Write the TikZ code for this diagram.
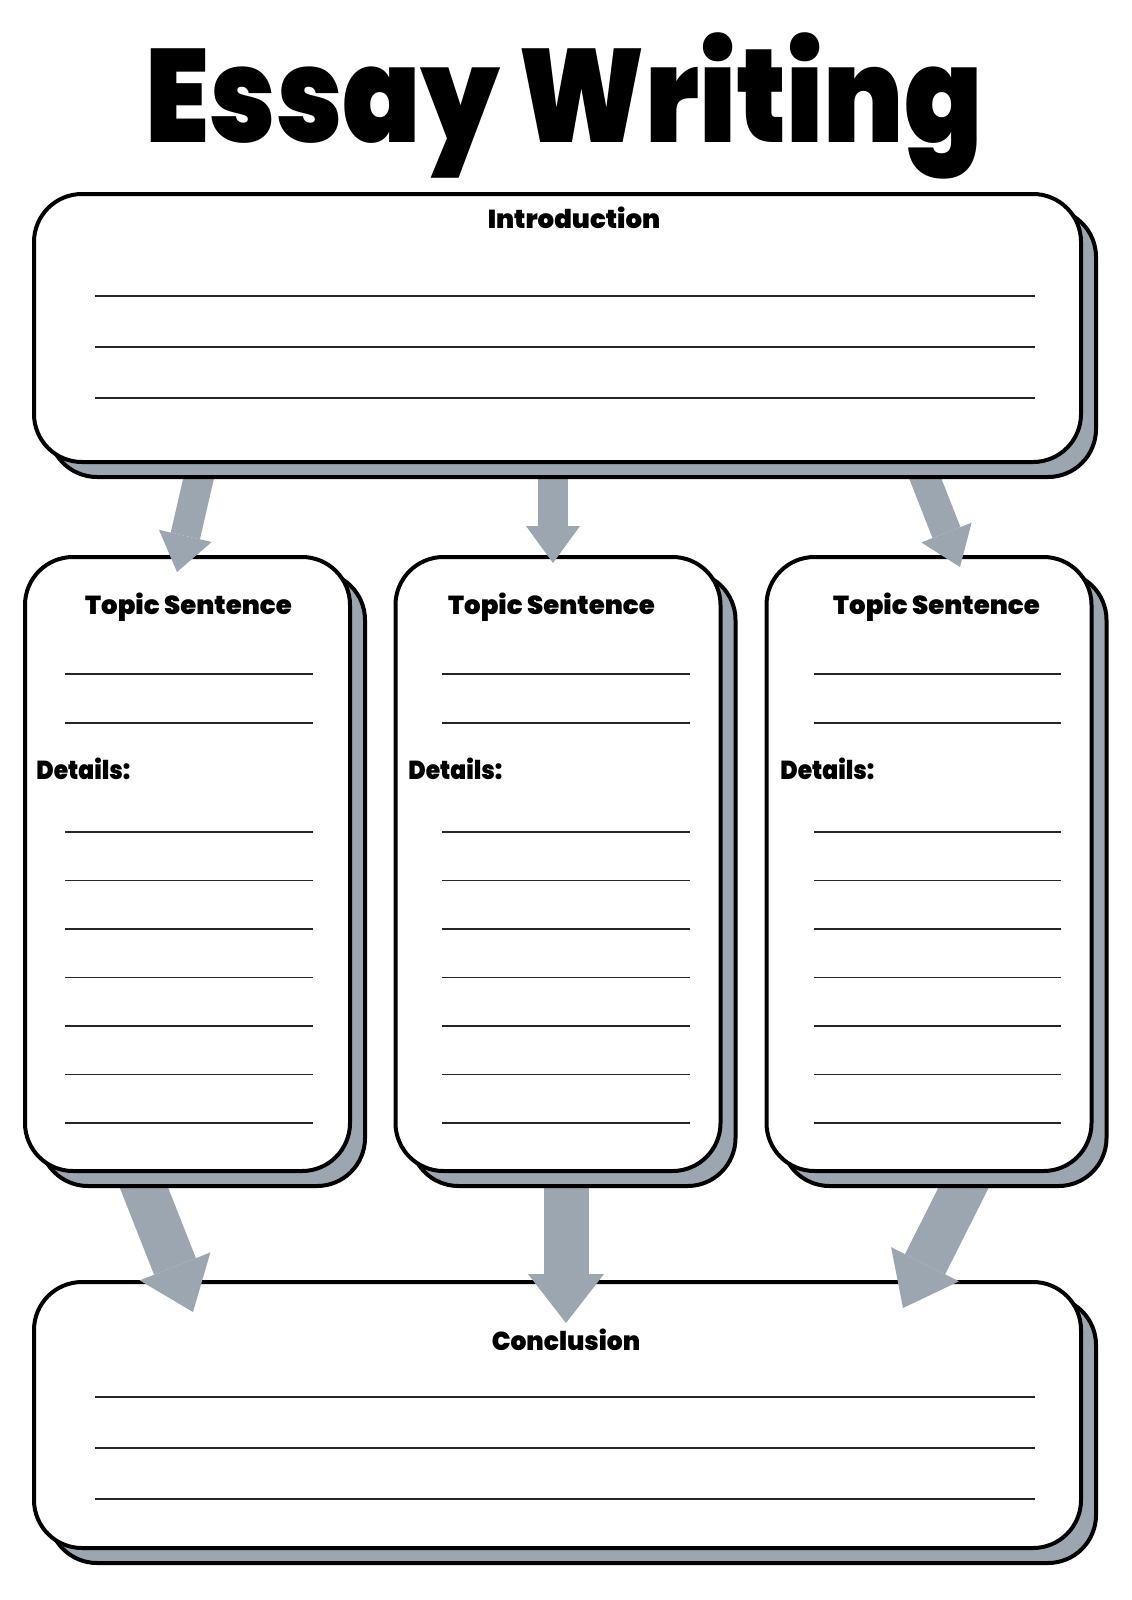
\documentclass[tikz,border=0pt]{standalone}
\usepackage{fontspec}
\newfontfamily\heavyfont{Poppins Black}
\usetikzlibrary{arrows.meta,shadows}
\definecolor{slate}{RGB}{155,166,177}

\tikzset{
  card/.style={draw, line width=2pt, fill=white, rounded corners=24pt,
    inner sep=0pt,
    general shadow={draw, fill=slate, shadow xshift=7.5pt, shadow yshift=-7.5pt}},
  writeline/.style={line width=0.8pt, draw=black!85},
  heading/.style={font=\heavyfont\fontsize{13}{15}\selectfont, inner sep=0pt},
  slim arrow/.style={draw=slate, line width=15pt,
    -{Triangle[width=27pt,length=18.5pt,line width=0pt]}},
  wide arrow/.style={draw=slate, line width=22.5pt,
    -{Triangle[width=38pt,length=24.5pt,line width=0pt]}}
}

\begin{document}
\begin{tikzpicture}[x=0.5pt,y=-0.5pt]
  \useasboundingbox (0,0) rectangle (1131,1600);

  % conclusion
  \node[card, minimum width=523.5pt, minimum height=133pt] (concl) at (557.5,1415) {};
  \foreach \y in {1397,1448,1499}
    \draw[writeline] (95,\y) -- (1035,\y);
  \node[heading, anchor=base] (conclhead) at (566,1350) {\scalebox{0.96}[1]{Conclusion}};

  % arrows into the conclusion
  \coordinate (d1) at (135,1165);
  \coordinate (e1) at (193,1312);
  \coordinate (d2) at (566,1165);
  \coordinate (e2) at (566,1323);
  \coordinate (d3) at (975,1165);
  \coordinate (e3) at (903,1308);
  \foreach \i in {1,2,3}
    \path (d\i) edge[wide arrow] (e\i);

  % topic boxes
  \foreach \i/\cx/\tx/\xa/\xb/\dx in {1/187.5/188.5/65/313/36, 2/558/551.5/442/690/408, 3/929/936.5/814/1061/780} {
    \node[card, minimum width=162.5pt, minimum height=307pt] (t\i) at (\cx,864) {};
    \node[heading, anchor=base] (ts\i) at (\tx,614) {Topic Sentence};
    \node[heading, anchor=base west] (dt\i) at (\dx,779) {\scalebox{0.9}[1]{Details:}};
    \foreach \y in {674,723}
      \draw[writeline] (\xa,\y) -- (\xb,\y);
    \foreach \k in {0,...,6}
      \draw[writeline] (\xa,832+48.5*\k) -- (\xb,832+48.5*\k);
  }

  % arrows out of the introduction
  \coordinate (a1) at (204,455);
  \coordinate (b1) at (177,572);
  \coordinate (a2) at (553,455);
  \coordinate (b2) at (553,563);
  \coordinate (a3) at (916,455);
  \coordinate (b3) at (960,567);
  \foreach \i in {1,2,3}
    \path (a\i) edge[slim arrow] (b\i);

  % introduction
  \node[card, minimum width=523.5pt, minimum height=134pt] (intro) at (557.5,328) {};
  \foreach \y in {296,347,398}
    \draw[writeline] (95,\y) -- (1035,\y);
  \node[heading, anchor=base] (introhead) at (574,228) {Introduction};

  % title
  \node[font=\heavyfont\fontsize{72}{76}\selectfont, anchor=base, inner sep=0pt]
    (title) at (564,142) {\scalebox{0.8}[0.92]{Essay Writing}};
\end{tikzpicture}
\end{document}
